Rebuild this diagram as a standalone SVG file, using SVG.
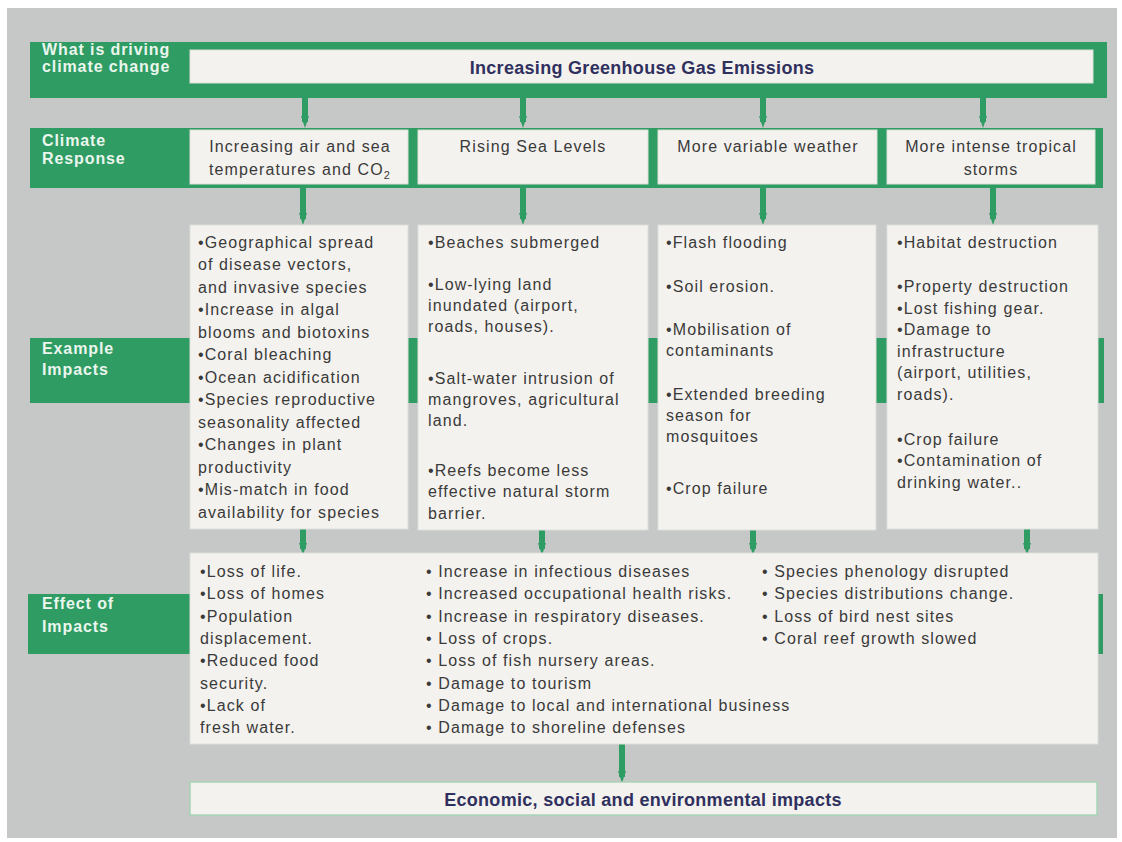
<svg xmlns="http://www.w3.org/2000/svg" width="1122" height="842" viewBox="0 0 1122 842">
<defs>
<style>
.band{fill:#2f9c63}
.box{fill:#f4f2ee;stroke:#dcdedb;stroke-width:1}
.lbl{font-family:"Liberation Sans",Arial,sans-serif;font-size:16px;font-weight:bold;fill:#eaf6ee;letter-spacing:0.9px}
.hdr{font-family:"Liberation Sans",Arial,sans-serif;font-size:18px;font-weight:bold;fill:#30305f;letter-spacing:0.3px;text-anchor:middle}
.t{font-family:"Liberation Sans",Arial,sans-serif;font-size:16px;fill:#3a3a3a;letter-spacing:1.1px}
.c{text-anchor:middle}
.con{stroke:#2f9c63;stroke-width:6;fill:none;marker-end:url(#ah)}
</style>
<marker id="ah" markerUnits="userSpaceOnUse" markerWidth="12" markerHeight="8" refX="6" refY="0" orient="auto" viewBox="0 -4 12 8">
<path d="M0,-4 L12,0 L0,4 Z" fill="#2f9c63"/>
</marker>
</defs>
<rect x="0" y="0" width="1122" height="842" fill="#ffffff"/>
<rect x="7" y="8" width="1110" height="830" fill="#c5c8c6"/>

<g id="connectors">
<path class="con" d="M305,98 V122"/>
<path class="con" d="M523,98 V122"/>
<path class="con" d="M763,98 V122"/>
<path class="con" d="M983,98 V122"/>
<path class="con" d="M303,184 V219"/>
<path class="con" d="M523,184 V219"/>
<path class="con" d="M763,184 V219"/>
<path class="con" d="M993,184 V219"/>
<path class="con" d="M303,528 V549"/>
<path class="con" d="M542,530 V549"/>
<path class="con" d="M753,530 V549"/>
<path class="con" d="M1027,528 V549"/>
<path class="con" d="M622,744 V777"/>
</g>

<g id="row-driving">
<rect class="band" x="30" y="42" width="1077" height="56"/>
<text class="lbl" x="42" y="55">What is driving</text>
<text class="lbl" x="42" y="72">climate change</text>
</g>
<g id="node-ghg">
<rect class="box" x="190" y="50" width="903" height="33"/>
<text class="hdr" x="642" y="74">Increasing Greenhouse Gas Emissions</text>
</g>

<g id="row-response">
<rect class="band" x="30" y="128" width="1073" height="60"/>
<text class="lbl" x="42" y="146">Climate</text>
<text class="lbl" x="42" y="164">Response</text>
</g>
<g id="node-temp">
<rect class="box" x="190" y="130" width="218" height="54"/>
<text class="t c" x="300" y="152">Increasing air and sea</text>
<text class="t c" x="300" y="175">temperatures and CO<tspan font-size="11" dy="4">2</tspan></text>
</g>
<g id="node-sea">
<rect class="box" x="418" y="130" width="230" height="54"/>
<text class="t c" x="533" y="152">Rising Sea Levels</text>
</g>
<g id="node-weather">
<rect class="box" x="658" y="130" width="219" height="54"/>
<text class="t c" x="768" y="152">More variable weather</text>
</g>
<g id="node-storms">
<rect class="box" x="887" y="130" width="208" height="54"/>
<text class="t c" x="991" y="152">More intense tropical</text>
<text class="t c" x="991" y="175">storms</text>
</g>

<g id="row-example">
<rect class="band" x="30" y="338" width="1074" height="65"/>
<text class="lbl" x="42" y="354">Example</text>
<text class="lbl" x="42" y="375">Impacts</text>
</g>
<g id="node-ex-temp">
<rect class="box" x="190" y="225" width="218" height="304"/>
<text class="t" x="198" y="248">•Geographical spread</text>
<text class="t" x="198" y="270"> of disease vectors,</text>
<text class="t" x="198" y="293"> and invasive species</text>
<text class="t" x="198" y="315">•Increase in algal</text>
<text class="t" x="198" y="338"> blooms and biotoxins</text>
<text class="t" x="198" y="360">•Coral bleaching</text>
<text class="t" x="198" y="383">•Ocean acidification</text>
<text class="t" x="198" y="405">•Species reproductive</text>
<text class="t" x="198" y="428"> seasonality affected</text>
<text class="t" x="198" y="450">•Changes in plant</text>
<text class="t" x="198" y="473"> productivity</text>
<text class="t" x="198" y="495">•Mis-match in food</text>
<text class="t" x="198" y="518"> availability for species</text>
</g>
<g id="node-ex-sea">
<rect class="box" x="418" y="225" width="230" height="305"/>
<text class="t" x="428" y="248">•Beaches submerged</text>
<text class="t" x="428" y="290">•Low-lying land</text>
<text class="t" x="428" y="311"> inundated (airport,</text>
<text class="t" x="428" y="332"> roads, houses).</text>
<text class="t" x="428" y="384">•Salt-water intrusion of</text>
<text class="t" x="428" y="405"> mangroves, agricultural</text>
<text class="t" x="428" y="426"> land.</text>
<text class="t" x="428" y="476">•Reefs become less</text>
<text class="t" x="428" y="497"> effective natural storm</text>
<text class="t" x="428" y="519"> barrier.</text>
</g>
<g id="node-ex-weather">
<rect class="box" x="658" y="225" width="218" height="305"/>
<text class="t" x="666" y="248">•Flash flooding</text>
<text class="t" x="666" y="292">•Soil erosion.</text>
<text class="t" x="666" y="335">•Mobilisation of</text>
<text class="t" x="666" y="356"> contaminants</text>
<text class="t" x="666" y="400">•Extended breeding</text>
<text class="t" x="666" y="421"> season for</text>
<text class="t" x="666" y="442"> mosquitoes</text>
<text class="t" x="666" y="494">•Crop failure</text>
</g>
<g id="node-ex-storms">
<rect class="box" x="887" y="225" width="211" height="304"/>
<text class="t" x="897" y="248">•Habitat destruction</text>
<text class="t" x="897" y="292">•Property destruction</text>
<text class="t" x="897" y="314">•Lost fishing gear.</text>
<text class="t" x="897" y="335">•Damage to</text>
<text class="t" x="897" y="357"> infrastructure</text>
<text class="t" x="897" y="378"> (airport, utilities,</text>
<text class="t" x="897" y="400"> roads).</text>
<text class="t" x="897" y="445">•Crop failure</text>
<text class="t" x="897" y="466">•Contamination of</text>
<text class="t" x="897" y="488"> drinking water..</text>
</g>

<g id="row-effect">
<rect class="band" x="28" y="594" width="1075" height="60"/>
<text class="lbl" x="42" y="609">Effect of</text>
<text class="lbl" x="42" y="632">Impacts</text>
</g>
<g id="node-effect">
<rect class="box" x="190" y="553" width="908" height="191"/>
<text class="t" x="200" y="577">•Loss of life.</text>
<text class="t" x="200" y="599">•Loss of homes</text>
<text class="t" x="200" y="622">•Population</text>
<text class="t" x="200" y="644"> displacement.</text>
<text class="t" x="200" y="666">•Reduced food</text>
<text class="t" x="200" y="689"> security.</text>
<text class="t" x="200" y="711">•Lack of</text>
<text class="t" x="200" y="733"> fresh water.</text>
<text class="t" x="426" y="577">• Increase in infectious diseases</text>
<text class="t" x="426" y="599">• Increased occupational health risks.</text>
<text class="t" x="426" y="622">• Increase in respiratory diseases.</text>
<text class="t" x="426" y="644">• Loss of crops.</text>
<text class="t" x="426" y="666">• Loss of fish nursery areas.</text>
<text class="t" x="426" y="689">• Damage to tourism</text>
<text class="t" x="426" y="711">• Damage to local and international business</text>
<text class="t" x="426" y="733">• Damage to shoreline defenses</text>
<text class="t" x="762" y="577">• Species phenology disrupted</text>
<text class="t" x="762" y="599">• Species distributions change.</text>
<text class="t" x="762" y="622">• Loss of bird nest sites</text>
<text class="t" x="762" y="644">• Coral reef growth slowed</text>
</g>

<g id="node-final">
<rect x="190" y="782" width="907" height="33" fill="#f4f2ee" stroke="#a8d4b8" stroke-width="1.5"/>
<text class="hdr" x="643" y="806">Economic, social and environmental impacts</text>
</g>
</svg>
